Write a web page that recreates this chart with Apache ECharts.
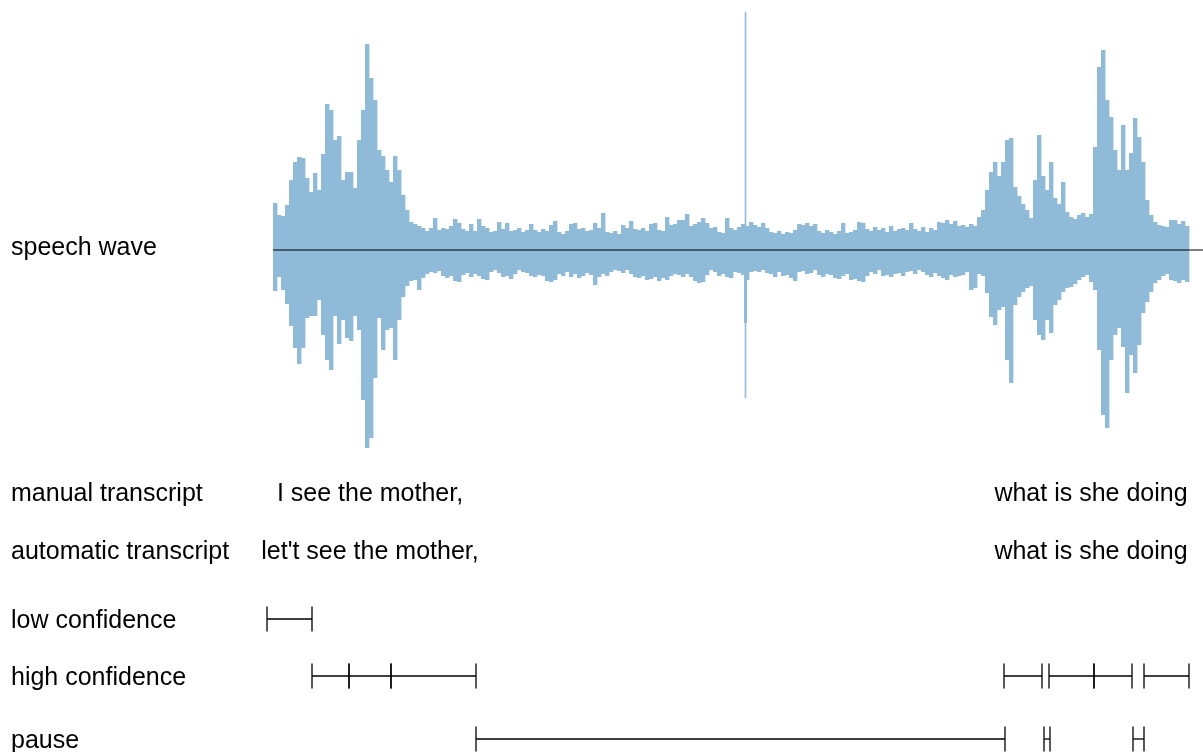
<!DOCTYPE html>
<html>
<head>
<meta charset="utf-8">
<script src="https://cdn.jsdelivr.net/npm/echarts@6/dist/echarts.min.js"></script>
<style>
  html, body { margin: 0; padding: 0; background: #fff; }
  #chart { width: 1203px; height: 752px; }
</style>
</head>
<body>
<div id="chart"></div>
<script>
// Row titles, top to bottom
const rowLabels = ['speech wave', 'manual transcript', 'automatic transcript',
                   'low confidence', 'high confidence', 'pause'];

// Waveform envelope: one column every waveStep seconds starting at waveStart
const waveStart = 0.06;
const waveStep = 0.04;
const waveHigh = [
  47, 35, 34, 45, 70, 88, 93, 92, 72, 58,
  77, 60, 96, 146, 140, 110, 114, 70, 78, 78,
  62, 110, 140, 206, 172, 150, 100, 94, 80, 68,
  94, 80, 55, 40, 28, 26, 24, 22, 19, 22,
  32, 20,
  22, 21, 24, 31, 27, 21, 19, 26, 19, 31,
  24, 22, 18, 19, 28, 21, 27, 19, 20, 22,
  18, 20, 26, 20, 18, 21, 19, 25, 29, 18,
  16, 19, 26, 27, 21, 22, 19, 20, 27, 22,
  37, 18, 17, 19, 16, 25, 22, 29, 21, 20,
  22, 19, 26, 27, 20, 19, 33, 25, 26, 30,
  30, 36, 24, 26, 28, 32, 27, 22, 23, 18,
  17, 32, 22, 20, 23, 26, 24, 28, 25, 23,
  27, 22, 18, 17, 19, 16, 18, 17, 20, 26,
  25, 27, 24, 26, 19, 17, 20, 18, 16, 19,
  27, 17, 18, 20, 28, 27, 21, 19, 23, 20,
  22, 18, 24, 19, 21, 22, 20, 27, 21, 19,
  23, 18, 22, 20, 28, 27, 30, 26, 29, 24,
  25, 23, 26, 24, 33, 40,
  60, 78, 88, 74, 88, 110, 112, 63, 54, 46,
  40, 32, 70, 115, 74, 60, 88, 52, 46, 68,
  38, 33, 31, 35, 37, 33, 36, 103, 183, 200,
  150, 133, 100, 80, 125, 80, 97, 132, 113, 88,
  50, 35, 28, 25, 24, 23, 30, 30, 26, 29,
  24
];
const waveLow = [
  -41, -27, -40, -54, -76, -98, -114, -98, -68, -66,
  -66, -50, -85, -110, -120, -66, -94, -70, -88, -91,
  -66, -80, -150, -198, -188, -128, -68, -100, -80, -78,
  -110, -70, -47, -36, -31, -30, -40, -28, -24, -22,
  -23, -21,
  -26, -28, -26, -31, -32, -25, -23, -27, -24, -26,
  -29, -30, -22, -20, -23, -27, -26, -29, -24, -20,
  -22, -23, -26, -27, -25, -26, -31, -32, -30, -24,
  -26, -22, -27, -24, -28, -26, -23, -25, -35, -27,
  -24, -26, -22, -20, -21, -23, -20, -24, -27, -28,
  -26, -30, -29, -27, -31, -28, -30, -26, -24, -25,
  -27, -24, -27, -31, -33, -32, -25, -20, -22, -26,
  -24, -27, -28, -22, -23, -25, -30, -22, -21, -22,
  -20, -23, -24, -27, -22, -26, -25, -28, -31, -22,
  -21, -24, -23, -20, -25, -27, -24, -25, -28, -29,
  -26, -24, -30, -29, -31, -32, -26, -22, -24, -20,
  -26, -25, -27, -24, -23, -26, -22, -21, -24, -20,
  -22, -25, -27, -23, -26, -28, -30, -25, -27, -26,
  -25, -22, -40, -38, -24, -26,
  -43, -67, -75, -60, -57, -110, -133, -55, -47, -42,
  -38, -36, -70, -85, -90, -70, -83, -55, -50, -42,
  -38, -37, -34, -30, -27, -25, -32, -40, -100, -165,
  -178, -110, -85, -78, -97, -143, -105, -123, -95, -63,
  -52, -42, -33, -30, -26, -24, -30, -31, -33, -30,
  -32
];

// Short transient in the middle of the pause
const clickTime = 4.785;
const clickHigh = 238;
const clickLow = -148;
const clickCoreLow = -73;

// Transcripts, centred on the phrase times (s)
const phraseCenters = [1.03, 8.24];
const manualText = ['I see the mother,', 'what is she doing'];
const autoText = ["let't see the mother,", 'what is she doing'];

// Segments [start, end] in seconds
const lowConfidence = [[0.00, 0.45]];
const highConfidence = [[0.45, 0.82], [0.82, 1.24], [1.24, 2.09],
                        [7.37, 7.75], [7.82, 8.27], [8.27, 8.65], [8.77, 9.22]];
const pauses = [[2.09, 7.38], [7.77, 7.83], [8.66, 8.77]];

// Page layout (pixels)
const FONT = '25px "Liberation Sans", Arial, Helvetica, sans-serif';
const labelX = 11;
const textY = [248, 494, 552, 621, 678, 741];
const segY = { low: 619, high: 676, pause: 739 };
const capHalf = 12.5;
const waveColor = '#8fbbd9';

const chart = echarts.init(document.getElementById('chart'), null, { renderer: 'canvas' });

function segmentSeries(segs, y) {
  return {
    type: 'custom',
    coordinateSystem: 'cartesian2d',
    clip: false,
    silent: true,
    data: segs,
    encode: { x: [0, 1] },
    renderItem: function (params, api) {
      const x0 = api.coord([api.value(0), 0])[0];
      const x1 = api.coord([api.value(1), 0])[0];
      const st = { stroke: '#000', lineWidth: 1.3 };
      return {
        type: 'group',
        children: [
          { type: 'line', shape: { x1: x0, y1: y, x2: x1, y2: y }, style: st },
          { type: 'line', shape: { x1: x0, y1: y - capHalf, x2: x0, y2: y + capHalf }, style: st },
          { type: 'line', shape: { x1: x1, y1: y - capHalf, x2: x1, y2: y + capHalf }, style: st }
        ]
      };
    }
  };
}

function textSeries(texts, y) {
  return {
    type: 'custom',
    coordinateSystem: 'cartesian2d',
    clip: false,
    silent: true,
    data: phraseCenters.map((t, i) => [t, i]),
    encode: { x: 0 },
    renderItem: function (params, api) {
      const x = api.coord([api.value(0), 0])[0];
      return {
        type: 'text',
        style: {
          x: x, y: y, text: texts[params.dataIndex], fill: '#000',
          font: FONT, align: 'center', verticalAlign: 'middle'
        }
      };
    }
  };
}

const waveData = waveHigh.map((h, i) => [waveStart + i * waveStep, h, waveLow[i]]);

const option = {
  animation: false,
  backgroundColor: '#fff',
  grid: { left: 267, right: 0, top: 12, height: 476 },
  xAxis: { type: 'value', min: 0, max: 9.36, show: false },
  yAxis: { type: 'value', min: -238, max: 238, show: false },
  graphic: rowLabels.map((t, i) => ({
    type: 'text',
    x: labelX,
    y: textY[i],
    silent: true,
    style: { text: t, fill: '#000', font: FONT, verticalAlign: 'middle' }
  })),
  series: [
    {
      // waveform envelope columns
      type: 'custom',
      coordinateSystem: 'cartesian2d',
      silent: true,
      data: waveData,
      encode: { x: 0, y: [1, 2] },
      renderItem: function (params, api) {
        const t = api.value(0);
        const x0 = api.coord([t, 0])[0];
        const x1 = api.coord([t + waveStep, 0])[0];
        const yTop = api.coord([t, api.value(1)])[1];
        const yBot = api.coord([t, api.value(2)])[1];
        return {
          type: 'rect',
          shape: { x: x0, y: yTop, width: x1 - x0 + 0.4, height: yBot - yTop },
          style: { fill: waveColor }
        };
      }
    },
    {
      // transient: thin full swing plus a wider core below zero
      type: 'custom',
      coordinateSystem: 'cartesian2d',
      silent: true,
      data: [[clickTime, clickHigh, clickLow, clickCoreLow]],
      encode: { x: 0, y: [1, 2] },
      renderItem: function (params, api) {
        const top = api.coord([api.value(0), api.value(1)]);
        const bot = api.coord([api.value(0), api.value(2)]);
        const mid = api.coord([api.value(0), 0]);
        const core = api.coord([api.value(0), api.value(3)]);
        return {
          type: 'group',
          children: [
            { type: 'line', shape: { x1: top[0], y1: top[1], x2: bot[0], y2: bot[1] },
              style: { stroke: waveColor, lineWidth: 1.6 } },
            { type: 'line', shape: { x1: mid[0], y1: mid[1], x2: core[0], y2: core[1] },
              style: { stroke: waveColor, lineWidth: 3 } }
          ]
        };
      }
    },
    {
      // zero line
      type: 'line',
      silent: true,
      symbol: 'none',
      data: [[waveStart, 0], [9.36, 0]],
      lineStyle: { color: '#000', width: 1.2 }
    },
    textSeries(manualText, textY[1]),
    textSeries(autoText, textY[2]),
    segmentSeries(lowConfidence, segY.low),
    segmentSeries(highConfidence, segY.high),
    segmentSeries(pauses, segY.pause)
  ]
};

chart.setOption(option);
</script>
</body>
</html>
